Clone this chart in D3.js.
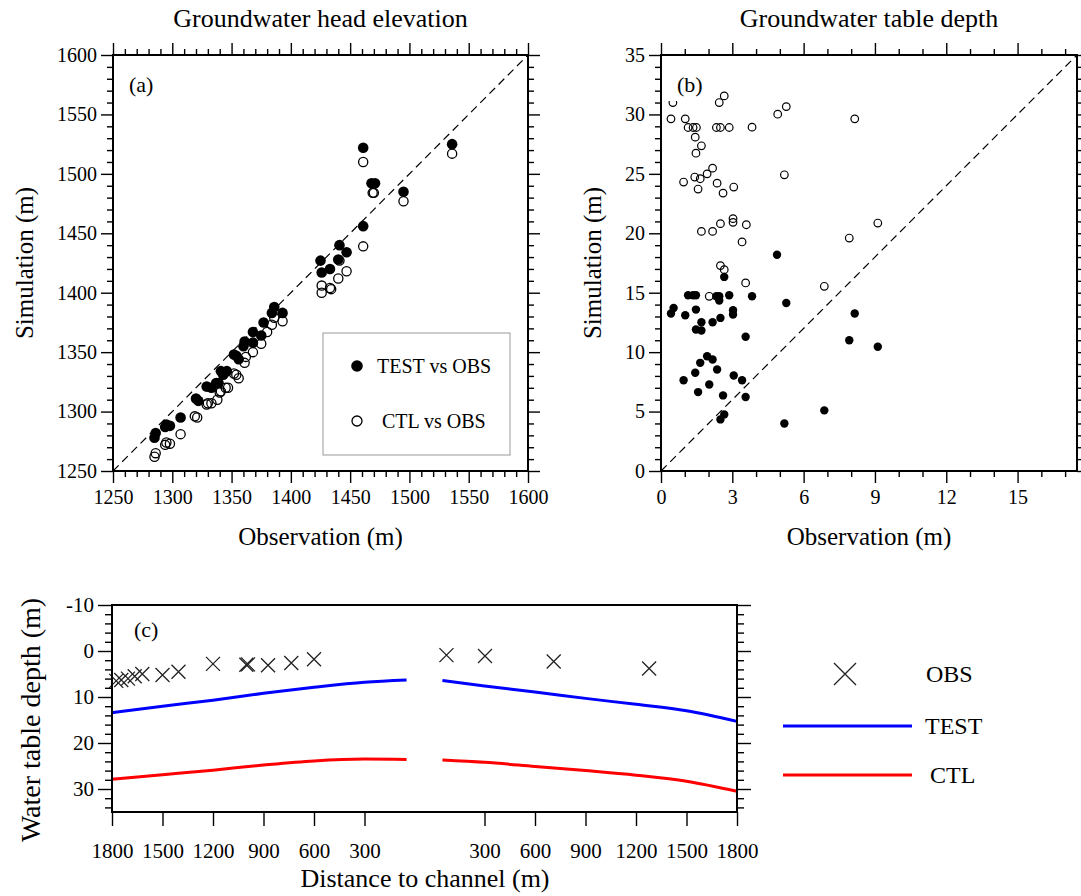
<!DOCTYPE html>
<html>
<head>
<meta charset="utf-8">
<script src="https://cdn.jsdelivr.net/npm/d3@7"></script>
<style>body{margin:0;background:#fff}</style>
</head>
<body>
<script>
// ---------- (a) groundwater head elevation (m) ----------
const headTestObs = [1461,1536,1468,1471,1495,1461,1441,1447,1425,1440,1433,1426,1386,1393,1384,1377,1368,1375,1361,1360,1368,1352,1354,1356,1341,1346,1343,1339,1329,1333,1337,1320,1322,1307,1295,1298,1294,1286,1285];
const headTestSim = [1522,1525,1492,1492,1485,1456,1440,1434,1427,1428,1420,1417,1388,1383,1383,1375,1367,1364,1359,1355,1358,1348,1347,1344,1334,1334,1331,1324,1321,1320,1324,1311,1309,1295,1289,1288,1287,1282,1278];
const headCtlObs = [1461,1536,1469,1470,1495,1461,1447,1440,1426,1426,1433,1434,1441,1393,1386,1384,1380,1375,1368,1362,1361,1352,1354,1356,1347,1345,1341,1340,1338,1333,1330,1329,1319,1321,1307,1298,1294,1295,1286,1285];
const headCtlSim = [1510,1517,1484,1484,1477,1439,1418,1412,1406,1400,1404,1403,1427,1376,1379,1373,1367,1357,1350,1346,1341,1332,1331,1328,1320,1320,1317,1316,1310,1307,1307,1306,1296,1295,1281,1273,1272,1274,1265,1262];

// ---------- (b) groundwater table depth (m) ----------
const depthTestObs = [4.88,2.66,1.14,1.35,1.47,2.45,2.33,2.45,2.87,3.83,5.27,0.53,0.42,1.47,3.03,3.03,1.02,8.15,2.50,2.17,1.70,1.47,1.70,3.56,7.92,9.12,1.94,2.17,1.65,2.36,1.44,0.95,3.06,3.41,2.03,1.56,2.61,3.56,6.87,2.66,2.50,5.19];
const depthTestSim = [18.2,16.33,14.79,14.79,14.79,14.70,14.70,14.34,14.79,14.70,14.14,13.72,13.25,13.58,13.53,13.16,13.11,13.25,12.88,12.52,12.52,11.90,11.82,11.29,11.0,10.45,9.66,9.38,9.10,8.54,8.26,7.64,8.04,7.64,7.28,6.64,6.36,6.22,5.10,4.76,4.34,4.0];
const depthCtlObs = [0.5,2.66,2.45,5.27,4.91,0.42,8.15,1.02,1.14,1.35,1.49,2.33,2.50,2.87,3.83,1.44,1.70,1.47,2.17,1.94,1.65,1.42,0.95,5.19,1.56,2.36,3.06,2.61,3.03,3.03,2.50,3.59,1.70,2.17,9.12,3.41,7.92,2.50,2.66,3.56,6.87,2.03];
const depthCtlSim = [31.0,31.56,31.0,30.66,30.02,29.63,29.63,29.63,28.9,28.9,28.9,28.9,28.9,28.9,28.93,28.09,27.36,26.74,25.48,25.0,24.59,24.73,24.31,24.92,23.72,24.22,23.89,23.38,21.23,20.92,20.81,20.72,20.16,20.16,20.86,19.27,19.6,17.28,16.94,15.82,15.54,14.70];

// ---------- (c) water table depth along the transect ----------
const leftDist = [1800,1500,1200,900,600,300,50];
const testLeft = [13.4,12.0,10.7,9.2,7.9,6.8,6.3];
const ctlLeft  = [27.9,26.9,25.9,24.8,23.9,23.5,23.6];
const rightDist = [50,300,600,900,1200,1500,1800];
const testRight = [6.4,7.6,8.9,10.3,11.6,13.0,15.3];
const ctlRight  = [23.7,24.2,25.1,26.0,27.0,28.3,30.5];
const obsLeftDist  = [1775,1745,1705,1665,1620,1500,1405,1200,1002,992,873,735,600];
const obsLeftDepth = [6.5,6.3,6.0,5.5,5.0,5.2,4.5,2.8,3.0,2.9,3.1,2.6,1.8];
const obsRightDist  = [74,303,711,1278];
const obsRightDepth = [0.9,1.1,2.3,3.8];

const headTicks = d3.range(1250, 1601, 50);
const depthXTicks = [0,3,6,9,12,15];
const depthYTicks = d3.range(0, 36, 5);
const wtdTicks = [-10,0,10,20,30];
const distTicks = [1800,1500,1200,900,600,300];

const FONT = "'Liberation Serif','Times New Roman',serif";
const plain = d => String(d);
const svg = d3.select("body").append("svg")
  .attr("width", 1081).attr("height", 896)
  .style("font-family", FONT);

function axisLayer(gen, tf, fs) {
  const a = svg.append("g").attr("transform", tf).call(gen);
  a.select(".domain").remove();
  a.selectAll(".tick line").attr("stroke", "#000").attr("stroke-width", 1.4);
  a.selectAll(".tick text").attr("font-size", fs).attr("fill", "#000").style("font-family", FONT);
  return a;
}
function minorsOf(lo, hi, step, majors) {
  return d3.range(lo, hi + step / 2, step).filter(v => !majors.some(m => Math.abs(m - v) < 1e-9));
}
function frame(x0, y0, x1, y1) {
  svg.append("rect").attr("x", x0).attr("y", y0).attr("width", x1 - x0).attr("height", y1 - y0)
    .attr("fill", "none").attr("stroke", "#000").attr("stroke-width", 2);
}
function boxedLabel(txt, x, y, fs, bx, by, bw, bh) {
  svg.append("rect").attr("x", bx).attr("y", by).attr("width", bw).attr("height", bh).attr("fill", "#fff");
  svg.append("text").attr("x", x).attr("y", y).attr("font-size", fs).text(txt);
}
function fourSides(x, y, xMaj, xMin, yMaj, yMin, L, T, R, B, fs) {
  axisLayer(d3.axisBottom(x).tickValues(xMaj).tickSize(12).tickPadding(7).tickFormat(plain), `translate(0,${B})`, fs);
  axisLayer(d3.axisBottom(x).tickValues(xMin).tickSize(6).tickFormat(""), `translate(0,${B})`, fs);
  axisLayer(d3.axisTop(x).tickValues(xMaj).tickSize(12).tickFormat(""), `translate(0,${T})`, fs);
  axisLayer(d3.axisTop(x).tickValues(xMin).tickSize(6).tickFormat(""), `translate(0,${T})`, fs);
  axisLayer(d3.axisLeft(y).tickValues(yMaj).tickSize(12).tickPadding(4).tickFormat(plain), `translate(${L},0)`, fs);
  axisLayer(d3.axisLeft(y).tickValues(yMin).tickSize(6).tickFormat(""), `translate(${L},0)`, fs);
  axisLayer(d3.axisRight(y).tickValues(yMaj).tickSize(12).tickFormat(""), `translate(${R},0)`, fs);
  axisLayer(d3.axisRight(y).tickValues(yMin).tickSize(6).tickFormat(""), `translate(${R},0)`, fs);
}

// ================= panel (a) =================
{
  const L = 113, R = 528, T = 55, B = 471;
  const x = d3.scaleLinear().domain([1250, 1600]).range([L, R]);
  const y = d3.scaleLinear().domain([1250, 1600]).range([B, T]);

  svg.append("line").attr("x1", x(1250)).attr("y1", y(1250)).attr("x2", x(1600)).attr("y2", y(1600))
    .attr("stroke", "#000").attr("stroke-width", 1.2).attr("stroke-dasharray", "8,5");

  svg.append("g").selectAll("circle").data(headTestObs).join("circle")
    .attr("cx", d => x(d)).attr("cy", (d, i) => y(headTestSim[i])).attr("r", 5.3).attr("fill", "#000");
  svg.append("g").selectAll("circle").data(headCtlObs).join("circle")
    .attr("cx", d => x(d)).attr("cy", (d, i) => y(headCtlSim[i])).attr("r", 4.6)
    .attr("fill", "none").attr("stroke", "#000").attr("stroke-width", 1.3);

  frame(L, T, R, B);
  fourSides(x, y, headTicks, minorsOf(1250, 1600, 10, headTicks), headTicks, minorsOf(1250, 1600, 10, headTicks),
    L, T, R, B, 20);

  boxedLabel("(a)", 129, 92, 22, 124, 70, 38, 30);

  // legend
  svg.append("rect").attr("x", 323).attr("y", 333).attr("width", 187).attr("height", 122)
    .attr("fill", "#fff").attr("stroke", "#999").attr("stroke-width", 1);
  svg.append("circle").attr("cx", 357).attr("cy", 366).attr("r", 5.8).attr("fill", "#000");
  svg.append("text").attr("x", 377).attr("y", 373).attr("font-size", 20).text("TEST vs OBS");
  svg.append("circle").attr("cx", 357).attr("cy", 421).attr("r", 5).attr("fill", "none")
    .attr("stroke", "#000").attr("stroke-width", 1.3);
  svg.append("text").attr("x", 382).attr("y", 428).attr("font-size", 20).text("CTL vs OBS");

  svg.append("text").attr("x", (L + R) / 2).attr("y", 27).attr("text-anchor", "middle")
    .attr("font-size", 26).text("Groundwater head elevation");
  svg.append("text").attr("x", (L + R) / 2).attr("y", 545).attr("text-anchor", "middle")
    .attr("font-size", 25).text("Observation (m)");
  svg.append("text").attr("transform", `translate(33,${(T + B) / 2}) rotate(-90)`).attr("text-anchor", "middle")
    .attr("font-size", 25).text("Simulation (m)");
}

// ================= panel (b) =================
{
  const L = 661, R = 1077, T = 55, B = 471;
  const x = d3.scaleLinear().domain([0, 17.5]).range([L, R]);
  const y = d3.scaleLinear().domain([0, 35]).range([B, T]);

  svg.append("line").attr("x1", x(0)).attr("y1", y(0)).attr("x2", x(17.5)).attr("y2", y(35))
    .attr("stroke", "#000").attr("stroke-width", 1.2).attr("stroke-dasharray", "8,5");

  svg.append("g").selectAll("circle").data(depthTestObs).join("circle")
    .attr("cx", d => x(d)).attr("cy", (d, i) => y(depthTestSim[i])).attr("r", 4.2).attr("fill", "#000");
  svg.append("g").selectAll("circle").data(depthCtlObs).join("circle")
    .attr("cx", d => x(d)).attr("cy", (d, i) => y(depthCtlSim[i])).attr("r", 3.8)
    .attr("fill", "none").attr("stroke", "#000").attr("stroke-width", 1.2);

  frame(L, T, R, B);
  fourSides(x, y, depthXTicks, minorsOf(0, 17, 1, depthXTicks), depthYTicks, minorsOf(0, 35, 1, depthYTicks),
    L, T, R, B, 20);

  boxedLabel("(b)", 677, 92, 22, 664, 66, 46, 35);

  svg.append("text").attr("x", (L + R) / 2).attr("y", 27).attr("text-anchor", "middle")
    .attr("font-size", 26).text("Groundwater table depth");
  svg.append("text").attr("x", (L + R) / 2).attr("y", 545).attr("text-anchor", "middle")
    .attr("font-size", 25).text("Observation (m)");
  svg.append("text").attr("transform", `translate(601,${(T + B) / 2}) rotate(-90)`).attr("text-anchor", "middle")
    .attr("font-size", 25).text("Simulation (m)");
}

// ================= panel (c) =================
{
  const L = 112, R = 737, T = 605, B = 812;
  const xL = d3.scaleLinear().domain([1800, 0]).range([L, 415]);
  const xR = d3.scaleLinear().domain([0, 1800]).range([434, R]);
  const y = d3.scaleLinear().domain([-10, 35]).range([T, B]);
  const yMin = minorsOf(-10, 34, 2, wtdTicks);

  const line = (xs) => d3.line().x(d => xs(d[0])).y(d => y(d[1])).curve(d3.curveMonotoneX);
  const segs = [
    [xL, leftDist, testLeft, "#0000ff"], [xR, rightDist, testRight, "#0000ff"],
    [xL, leftDist, ctlLeft, "#ff0000"], [xR, rightDist, ctlRight, "#ff0000"]
  ];
  segs.forEach(([xs, ds, vs, c]) => {
    svg.append("path").datum(ds.map((d, i) => [d, vs[i]])).attr("d", line(xs))
      .attr("fill", "none").attr("stroke", c).attr("stroke-width", 3);
  });

  const cross = "M-7,-7L7,7M-7,7L7,-7";
  svg.append("g").selectAll("path").data(obsLeftDist).join("path")
    .attr("transform", (d, i) => `translate(${xL(d)},${y(obsLeftDepth[i])})`)
    .attr("d", cross).attr("stroke", "#222").attr("stroke-width", 1.3).attr("fill", "none");
  svg.append("g").selectAll("path").data(obsRightDist).join("path")
    .attr("transform", (d, i) => `translate(${xR(d)},${y(obsRightDepth[i])})`)
    .attr("d", cross).attr("stroke", "#222").attr("stroke-width", 1.3).attr("fill", "none");

  frame(L, T, R, B);
  axisLayer(d3.axisLeft(y).tickValues(wtdTicks).tickSize(14).tickPadding(4).tickFormat(plain), `translate(${L},0)`, 21);
  axisLayer(d3.axisLeft(y).tickValues(yMin).tickSize(7).tickFormat(""), `translate(${L},0)`, 21);
  axisLayer(d3.axisRight(y).tickValues(wtdTicks).tickSize(14).tickFormat(""), `translate(${R},0)`, 21);
  axisLayer(d3.axisRight(y).tickValues(yMin).tickSize(7).tickFormat(""), `translate(${R},0)`, 21);
  axisLayer(d3.axisBottom(xL).tickValues(distTicks).tickSize(14).tickPadding(17).tickFormat(plain), `translate(0,${B})`, 21);
  axisLayer(d3.axisBottom(xR).tickValues(distTicks.slice().reverse()).tickSize(14).tickPadding(17).tickFormat(plain), `translate(0,${B})`, 21);

  svg.append("text").attr("x", 134).attr("y", 637).attr("font-size", 22).text("(c)");

  svg.append("text").attr("x", 425).attr("y", 887).attr("text-anchor", "middle")
    .attr("font-size", 26).text("Distance to channel (m)");
  svg.append("text").attr("transform", `translate(40,720) rotate(-90)`).attr("text-anchor", "middle")
    .attr("font-size", 28).text("Water table depth (m)");

  // legend
  svg.append("path").attr("transform", "translate(845,674)").attr("d", "M-11,-11L11,11M-11,11L11,-11")
    .attr("stroke", "#222").attr("stroke-width", 1.3);
  svg.append("text").attr("x", 926).attr("y", 682).attr("font-size", 24).text("OBS");
  svg.append("line").attr("x1", 783).attr("x2", 912).attr("y1", 726).attr("y2", 726)
    .attr("stroke", "#0000ff").attr("stroke-width", 3);
  svg.append("text").attr("x", 925).attr("y", 734).attr("font-size", 24).text("TEST");
  svg.append("line").attr("x1", 783).attr("x2", 912).attr("y1", 775).attr("y2", 775)
    .attr("stroke", "#ff0000").attr("stroke-width", 3);
  svg.append("text").attr("x", 930).attr("y", 783).attr("font-size", 24).text("CTL");
}
</script>
</body>
</html>
